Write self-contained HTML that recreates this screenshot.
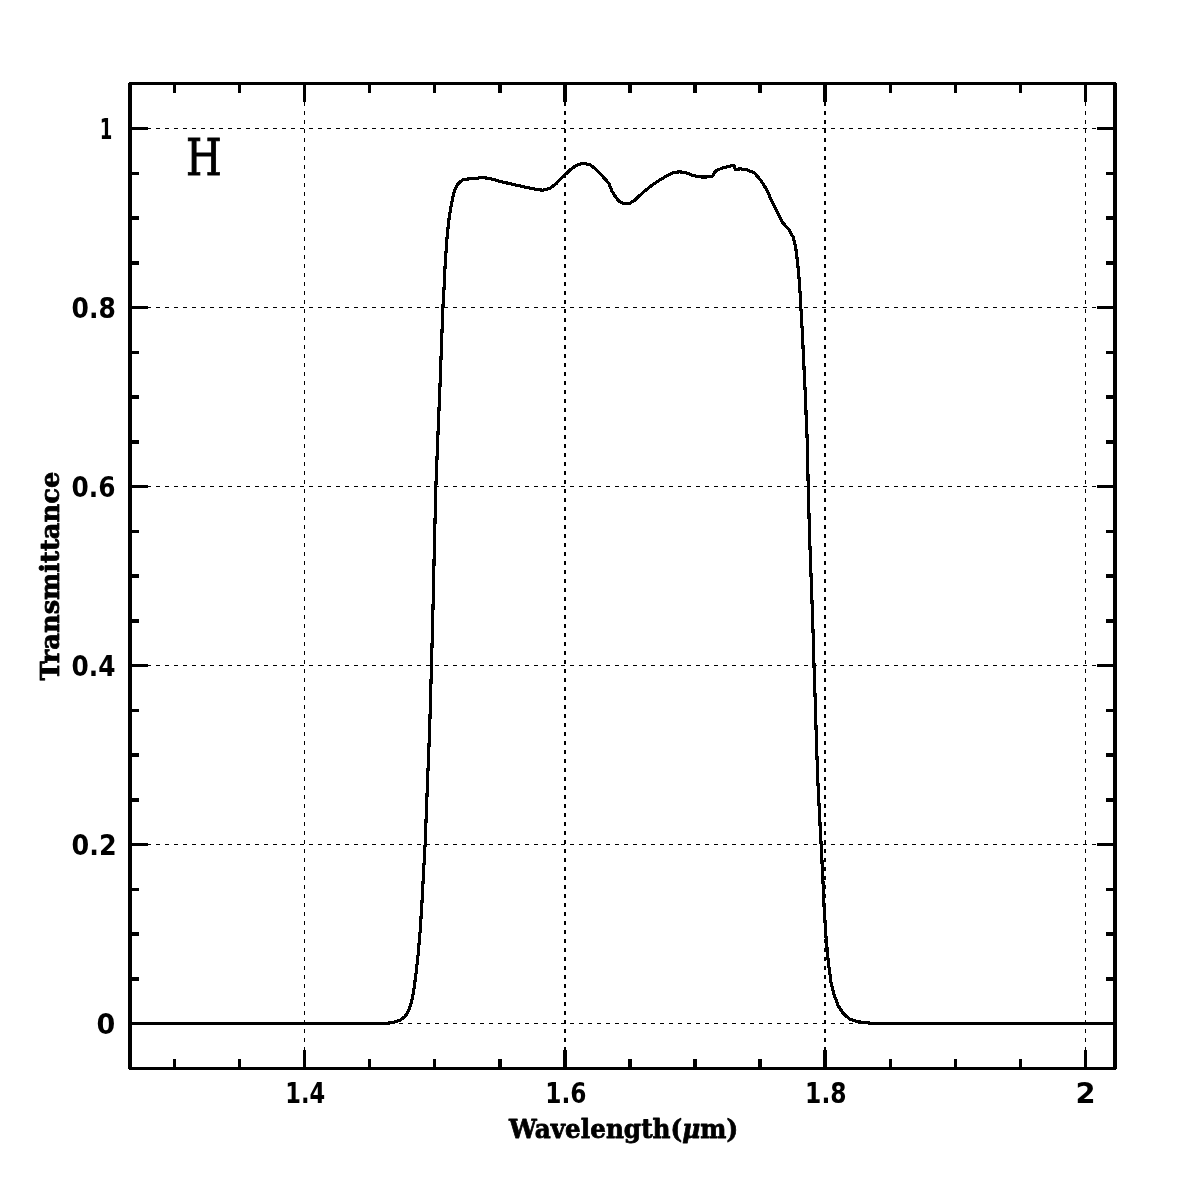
<!DOCTYPE html>
<html lang="en"><head><meta charset="utf-8"><title>H filter transmittance</title>
<style>html,body{margin:0;padding:0;background:#fff}svg{display:block}.lab{font-family:"DejaVu Serif","Liberation Serif",serif;font-weight:bold;fill:#000;stroke:#000;stroke-width:0.8px;stroke-linejoin:round}.num{font-family:"DejaVu Sans","Liberation Sans",sans-serif;font-weight:bold;fill:#000}.big{font-family:"DejaVu Serif","Liberation Serif",serif;fill:#000;stroke:#000;stroke-width:1px;stroke-linejoin:miter}</style></head><body>
<svg width="1196" height="1196" viewBox="0 0 1196 1196">
<rect width="1196" height="1196" fill="#fff"/>
<g stroke="#000" stroke-width="1.5" stroke-dasharray="4 5" fill="none" shape-rendering="crispEdges">
<line x1="304.50" y1="84" x2="304.50" y2="1068.5"/>
<line x1="564.83" y1="84" x2="564.83" y2="1068.5"/>
<line x1="825.17" y1="84" x2="825.17" y2="1068.5"/>
<line x1="1085.50" y1="84" x2="1085.50" y2="1068.5"/>
<line x1="129" y1="1023.70" x2="1115.0" y2="1023.70"/>
<line x1="129" y1="844.66" x2="1115.0" y2="844.66"/>
<line x1="129" y1="665.62" x2="1115.0" y2="665.62"/>
<line x1="129" y1="486.58" x2="1115.0" y2="486.58"/>
<line x1="129" y1="307.54" x2="1115.0" y2="307.54"/>
<line x1="129" y1="128.50" x2="1115.0" y2="128.50"/>
</g>
<g stroke="#000" stroke-width="3.5" fill="none" shape-rendering="crispEdges" stroke-linecap="butt">
<rect x="130.0" y="83.5" width="985.0" height="985.0" stroke-linejoin="round"/>
<path d="M174.33,83.5v9.2M174.33,1068.5v-9.2"/>
<path d="M239.42,83.5v9.2M239.42,1068.5v-9.2"/>
<path d="M304.50,83.5v18.25M304.50,1068.5v-18.25"/>
<path d="M369.58,83.5v9.2M369.58,1068.5v-9.2"/>
<path d="M434.67,83.5v9.2M434.67,1068.5v-9.2"/>
<path d="M499.75,83.5v9.2M499.75,1068.5v-9.2"/>
<path d="M564.83,83.5v18.25M564.83,1068.5v-18.25"/>
<path d="M629.92,83.5v9.2M629.92,1068.5v-9.2"/>
<path d="M695.00,83.5v9.2M695.00,1068.5v-9.2"/>
<path d="M760.08,83.5v9.2M760.08,1068.5v-9.2"/>
<path d="M825.17,83.5v18.25M825.17,1068.5v-18.25"/>
<path d="M890.25,83.5v9.2M890.25,1068.5v-9.2"/>
<path d="M955.34,83.5v9.2M955.34,1068.5v-9.2"/>
<path d="M1020.42,83.5v9.2M1020.42,1068.5v-9.2"/>
<path d="M1085.50,83.5v18.25M1085.50,1068.5v-18.25"/>
<path d="M130.0,1023.70h18.25M1115.0,1023.70h-18.25"/>
<path d="M130.0,978.94h9.2M1115.0,978.94h-9.2"/>
<path d="M130.0,934.18h9.2M1115.0,934.18h-9.2"/>
<path d="M130.0,889.42h9.2M1115.0,889.42h-9.2"/>
<path d="M130.0,844.66h18.25M1115.0,844.66h-18.25"/>
<path d="M130.0,799.90h9.2M1115.0,799.90h-9.2"/>
<path d="M130.0,755.14h9.2M1115.0,755.14h-9.2"/>
<path d="M130.0,710.38h9.2M1115.0,710.38h-9.2"/>
<path d="M130.0,665.62h18.25M1115.0,665.62h-18.25"/>
<path d="M130.0,620.86h9.2M1115.0,620.86h-9.2"/>
<path d="M130.0,576.10h9.2M1115.0,576.10h-9.2"/>
<path d="M130.0,531.34h9.2M1115.0,531.34h-9.2"/>
<path d="M130.0,486.58h18.25M1115.0,486.58h-18.25"/>
<path d="M130.0,441.82h9.2M1115.0,441.82h-9.2"/>
<path d="M130.0,397.06h9.2M1115.0,397.06h-9.2"/>
<path d="M130.0,352.30h9.2M1115.0,352.30h-9.2"/>
<path d="M130.0,307.54h18.25M1115.0,307.54h-18.25"/>
<path d="M130.0,262.78h9.2M1115.0,262.78h-9.2"/>
<path d="M130.0,218.02h9.2M1115.0,218.02h-9.2"/>
<path d="M130.0,173.26h9.2M1115.0,173.26h-9.2"/>
<path d="M130.0,128.50h18.25M1115.0,128.50h-18.25"/>
</g>
<path d="M130.0,1023.5 L386.8,1023.4 L393.5,1022.2 L400.1,1020.2 L405.2,1016.3 L408.8,1010.5 L411.5,1002.1 L413.8,990.4 L416.0,973.7 L418.2,953.7 L420.2,930.3 L421.9,903.5 L423.5,873.4 L425.1,844.4 L427.4,784.8 L429.6,730.4 L431.5,665.2 L433.0,608.0 L434.4,545.7 L435.9,485.6 L437.7,440.5 L440.2,380.3 L442.9,307.2 L444.0,288.8 L445.1,265.4 L446.8,240.3 L448.8,220.3 L451.5,203.5 L454.1,191.8 L456.8,185.5 L460.3,181.4 L464.3,179.3 L473.5,178.5 L482.7,177.6 L490.2,178.5 L498.6,181.0 L510.3,183.8 L523.7,186.8 L535.4,189.2 L542.9,190.3 L549.6,188.5 L555.5,184.3 L564.6,175.1 L572.2,168.1 L578.0,164.6 L583.5,163.5 L589.7,164.7 L595.6,168.8 L602.3,176.0 L609.0,183.5 L612.3,191.8 L616.0,197.5 L619.3,201.5 L624.3,203.9 L629.3,203.5 L635.2,199.9 L641.8,193.5 L649.4,187.2 L656.9,181.8 L665.3,176.8 L673.6,172.6 L679.5,171.8 L685.3,172.6 L692.0,175.1 L697.9,176.8 L705.4,177.1 L712.9,176.0 L714.6,172.6 L717.1,170.1 L723.8,167.6 L730.5,165.9 L734.1,165.9 L735.5,169.3 L740.5,168.9 L747.2,169.8 L754.7,173.1 L761.3,181.0 L767.2,190.6 L771.4,200.2 L775.8,209.5 L782.2,222.0 L789.1,229.8 L793.2,237.2 L795.8,248.2 L797.8,264.3 L799.6,284.4 L800.8,306.4 L802.2,330.5 L803.4,354.6 L804.6,380.7 L805.6,400.0 L806.2,418.8 L807.2,440.1 L808.2,486.3 L809.6,536.5 L811.2,580.6 L812.7,620.4 L814.0,665.2 L815.2,700.3 L816.4,740.4 L817.8,780.5 L819.4,812.7 L821.1,844.2 L822.6,873.4 L824.1,906.9 L826.0,936.9 L828.1,960.3 L831.0,982.1 L834.3,995.4 L838.5,1006.3 L843.5,1013.8 L850.2,1019.3 L858.6,1021.8 L868.6,1023.0 L880.0,1023.5 L1115.0,1023.5" fill="none" stroke="#000" stroke-width="3.15" stroke-linejoin="round" stroke-linecap="butt" shape-rendering="crispEdges"/>
<text class="num" font-size="29.04" transform="translate(285.22 1103.10) scale(0.7764 1)">1.4</text>
<text class="num" font-size="28.27" transform="translate(545.24 1102.82) scale(0.8240 1)">1.6</text>
<text class="num" font-size="27.89" transform="translate(805.12 1102.82) scale(0.8402 1)">1.8</text>
<text class="num" font-size="28.65" transform="translate(1075.49 1103.10) scale(1.0077 1)">2</text>
<text class="num" font-size="27.89" transform="translate(71.53 854.88) scale(0.9127 1)">0.2</text>
<text class="num" font-size="27.89" transform="translate(71.56 675.84) scale(0.8909 1)">0.4</text>
<text class="num" font-size="27.89" transform="translate(71.56 496.80) scale(0.8909 1)">0.6</text>
<text class="num" font-size="27.89" transform="translate(71.55 317.76) scale(0.8962 1)">0.8</text>
<text class="num" font-size="27.89" transform="translate(96.45 1033.92) scale(0.9679 1)">0</text>
<text class="num" font-size="29.04" transform="translate(99.81 139.10) scale(0.6225 1)">1</text>
<text class="lab" font-size="26.58" transform="translate(509.05 1137.70) scale(0.9305 1)">Wavelength(<tspan font-style="italic">μ</tspan>m)</text>
<text class="lab" font-size="26.05" transform="translate(58.70 680.56) rotate(-90) scale(0.9882 1)">Transmittance</text>
<text class="big" font-size="49.73" transform="translate(186.04 174.50) scale(0.8229 1)">H</text>
</svg></body></html>
